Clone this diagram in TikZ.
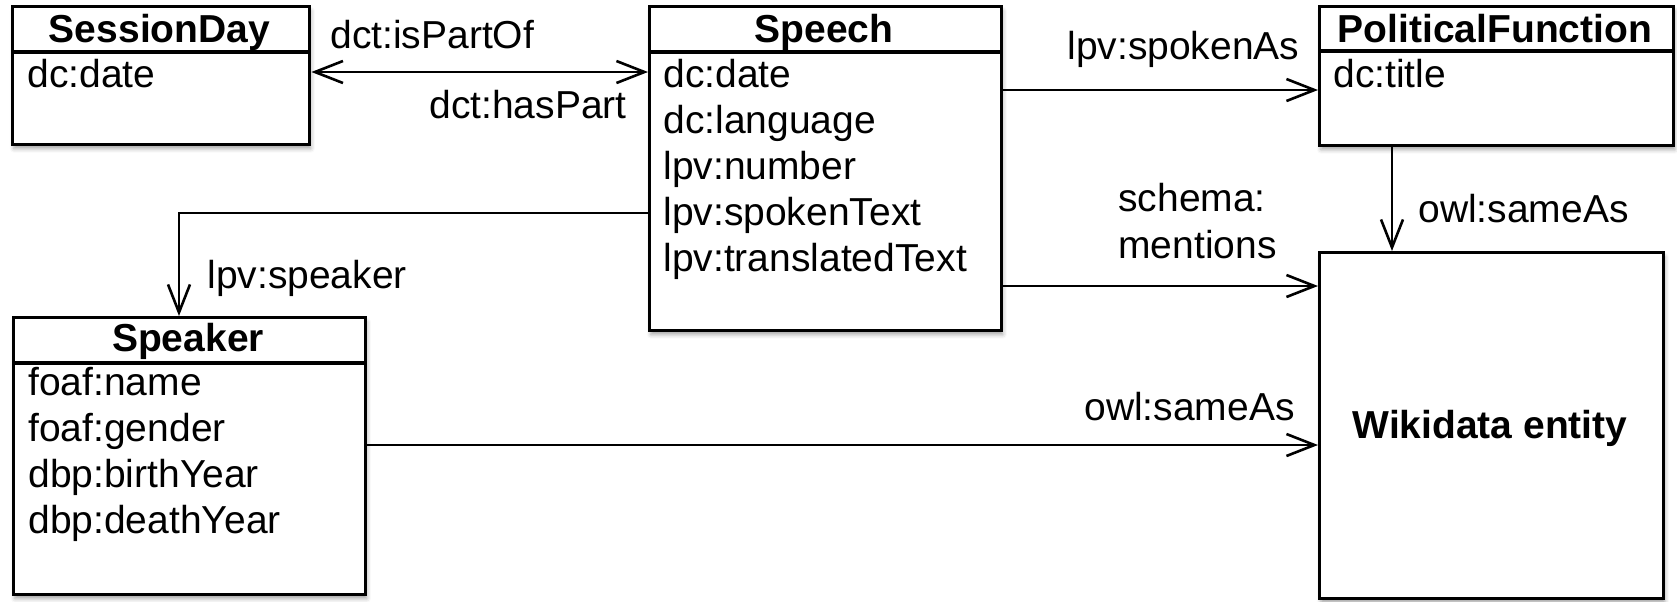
\documentclass[tikz,border=0pt]{standalone}
\usepackage{fontspec}
\setmainfont{Liberation Sans}
\usetikzlibrary{arrows.meta,shadows.blur}
\begin{document}
\begin{tikzpicture}[x=0.5pt,y=-0.5pt,
  box/.style={draw, line width=1.7pt, fill=white, anchor=north west, inner sep=0pt,
    blur shadow={shadow xshift=0.6pt, shadow yshift=-2pt, shadow blur radius=2pt, shadow opacity=35}},
  barb/.tip={Straight Barb[length=14pt,width=11pt,line width=1.3pt]},
  conn/.style={line width=1.3pt, -barb},
  hdr/.style={line width=1.6pt},
  lbl/.style={anchor=base west, inner sep=0pt, font=\fontsize{19.5pt}{23pt}\selectfont},
  ttl/.style={anchor=base, inner sep=0pt, font=\fontsize{19.5pt}{23pt}\selectfont\bfseries}]
\useasboundingbox (0,0) rectangle (1677,601);

% boxes
\node[box, minimum width=148.5pt, minimum height=69pt] (sd) at (11,5) {};
\node[box, minimum width=176pt, minimum height=162pt] (speech) at (648,5) {};
\node[box, minimum width=177pt, minimum height=69.5pt] (pf) at (1318,5) {};
\node[box, minimum width=172pt, minimum height=173pt] (wd) at (1318,251) {};
\node[box, minimum width=176pt, minimum height=138.5pt] (speaker) at (12,316) {};

% header separators
\draw[hdr] ([yshift=-23.5pt]sd.north west) -- ([yshift=-23.5pt]sd.north east);
\draw[hdr] ([yshift=-23.5pt]speech.north west) -- ([yshift=-23.5pt]speech.north east);
\draw[hdr] ([yshift=-23pt]pf.north west) -- ([yshift=-23pt]pf.north east);
\draw[hdr] ([yshift=-23.5pt]speaker.north west) -- ([yshift=-23.5pt]speaker.north east);

% titles
\node[ttl] (sdt) at (159.5,42) {SessionDay};
\node[ttl] (speecht) at (824,42) {Speech};
\node[ttl] (pft) at (1495,42) {PoliticalFunction};
\node[ttl] (speakert) at (188,351) {Speaker};
\node[ttl] (wdt) at (1490,438) {Wikidata entity};

% attributes
\node[lbl] (sda1) at (27,87) {dc:date};
\node[lbl] (pfa1) at (1333,87) {dc:title};
\node[lbl] (spa1) at (663,87) {dc:date};
\node[lbl] (spa2) at (663,133) {dc:language};
\node[lbl] (spa3) at (663,179) {lpv:number};
\node[lbl] (spa4) at (663,225) {lpv:spokenText};
\node[lbl] (spa5) at (663,271) {lpv:translatedText};
\node[lbl] (ska1) at (28,395) {foaf:name};
\node[lbl] (ska2) at (28,441) {foaf:gender};
\node[lbl] (ska3) at (28,487) {dbp:birthYear};
\node[lbl] (ska4) at (28,533) {dbp:deathYear};

% connector rows
\coordinate (r1) at (0,72);
\coordinate (r2) at (0,90);
\coordinate (r3) at (0,286);
\coordinate (r4) at (0,445);
\coordinate (ek) at (179,213);
\coordinate (vx) at (1392,0);

% connectors
\draw[line width=1.3pt, barb-barb] (sd.east |- r1) -- (speech.west |- r1);
\draw[conn] (speech.east |- r2) -- (pf.west |- r2);
\draw[conn] (speech.east |- r3) -- (wd.west |- r3);
\draw[conn] (speaker.east |- r4) -- (wd.west |- r4);
\draw[conn] (vx |- pf.south) -- (vx |- wd.north);
\draw[conn] (speech.west |- ek) -| (ek |- speaker.north);

% connector labels
\node[lbl] (l1) at (330,48) {dct:isPartOf};
\node[lbl, anchor=base east] (l2) at (627,118) {dct:hasPart};
\node[lbl] (l3) at (1067,59) {lpv:spokenAs};
\node[lbl] (l4) at (1118,211) {schema:};
\node[lbl] (l5) at (1118,258) {mentions};
\node[lbl] (l6) at (1418,222) {owl:sameAs};
\node[lbl, anchor=base east] (l7) at (1295,420) {owl:sameAs};
\node[lbl] (l8) at (207,288) {lpv:speaker};
\end{tikzpicture}
\end{document}
